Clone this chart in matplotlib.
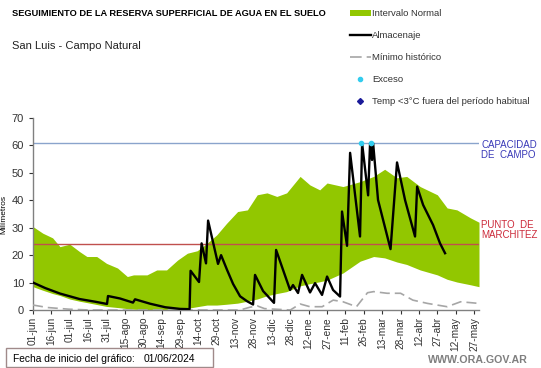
import numpy as np
import matplotlib
matplotlib.use("Agg")
import matplotlib.pyplot as plt
from matplotlib.lines import Line2D
from matplotlib.patches import Patch, Rectangle

plt.rcParams['font.family'] = ['Liberation Sans', 'DejaVu Sans']

# dias desde el 01/06/2024
tick_days = list(range(0, 361, 15))
tick_labels = ['01-jun', '16-jun', '01-jul', '16-jul', '31-jul', '15-ago', '30-ago',
               '14-sep', '29-sep', '14-oct', '29-oct', '13-nov', '28-nov', '13-dic',
               '28-dic', '12-ene', '27-ene', '11-feb', '26-feb', '13-mar', '28-mar',
               '12-abr', '27-abr', '12-may', '27-may']

# intervalo normal (banda verde)
band_days = [0, 8, 16, 22, 30, 38, 44, 52, 60, 69, 77, 82, 93, 101, 109, 118, 126, 134,
             142, 150, 158, 167, 175, 183, 191, 199, 207, 218, 226, 234, 240, 253, 267,
             278, 287, 297, 305, 316, 330, 338, 346, 357, 364]
band_upper = [30.4, 28.0, 26.3, 23.1, 24.0, 21.3, 19.5, 19.5, 17.0, 15.3, 12.2, 12.8, 12.8,
              14.6, 14.6, 18.2, 20.7, 21.6, 24.3, 27.4, 31.6, 35.9, 36.5, 42.0, 42.7, 41.4,
              42.7, 48.7, 45.6, 43.8, 46.3, 45.0, 46.8, 48.7, 51.3, 48.2, 48.7, 45.0, 42.0,
              37.2, 36.5, 33.6, 32.0]
band_lower = [8.5, 7.2, 6.0, 5.3, 4.0, 3.2, 2.7, 2.0, 1.3, 0.9, 0.5, 0.3, 0.1, 0.0, 0.0,
              0.2, 0.6, 1.2, 1.8, 1.8, 2.1, 2.5, 3.2, 4.0, 5.2, 6.0, 6.7, 8.8, 9.6, 10.3,
              10.9, 13.5, 17.8, 19.5, 19.0, 17.5, 16.6, 14.6, 12.8, 11.2, 10.2, 9.2, 8.5]

# almacenaje
alm_days = [0, 10, 22, 38, 51, 60.4, 61.2, 71, 81.6, 83.3, 95.5, 108, 120, 127.8, 128.6,
            135.5, 137.6, 141.2, 142.9, 151, 153.5, 158.4, 163.3, 169, 174.7, 179.6, 181.2,
            187.8, 196.7, 198.4, 209.8, 212.2, 216.3, 219.6, 226.1, 230.2, 235.9, 240,
            244.9, 250.6, 252.2, 256.3, 258.8, 266.9, 268.6, 273.5, 275.1, 276.7, 277.6,
            281.6, 291.8, 297.1, 303.7, 311.8, 313.5, 318.4, 326.5, 332.2, 336.3]
alm_vals = [10.0, 8.0, 6.0, 4.0, 3.0, 2.2, 5.1, 4.2, 2.7, 3.9, 2.3, 1.0, 0.4, 0.3, 14.3,
            10.2, 24.3, 17.0, 32.6, 16.8, 20.0, 14.6, 9.5, 5.0, 3.2, 2.0, 12.8,
            6.9, 2.6, 21.9, 7.3, 9.1, 6.2, 12.8, 6.4, 9.8, 5.5, 12.2,
            7.3, 4.9, 35.9, 23.4, 57.3, 26.8, 60.8, 41.8, 60.8, 54.7, 60.8,
            40.1, 22.2, 53.8, 40.0, 26.8, 45.0, 38.3, 31.0, 24.3, 20.7]

# minimo historico
min_days = [0, 12, 29, 46, 169, 177, 183, 189, 210, 218, 226, 236, 245, 253, 264, 273,
            278, 289, 300, 310, 322, 338, 349, 364]
min_vals = [1.8, 0.9, 0.3, 0.0, 0.0, 1.0, 1.5, 0.5, 0.0, 2.2, 1.2, 1.2, 3.6, 3.0, 1.2,
            6.3, 6.7, 6.1, 6.1, 3.6, 2.4, 1.2, 3.0, 2.4]

# exceso
exc_days = [268, 276]
exc_vals = [61, 61]

capacidad_campo = 61
punto_marchitez = 24

W, H = 541, 368
fig = plt.figure(figsize=(W / 100, H / 100), dpi=100)
ax = fig.add_axes([33 / W, 1 - 310 / H, (479 - 33) / W, (310 - 118) / H])

green = '#92c700'
ax.fill_between(band_days, band_lower, band_upper, color=green, linewidth=0, zorder=1)
ax.axhline(capacidad_campo, color='#8aa4cc', linewidth=1.0, zorder=2)
ax.axhline(punto_marchitez, color='#c0504d', linewidth=1.0, zorder=2)
ax.plot(min_days, min_vals, color='#a6a6a6', linewidth=1.2, dashes=(6, 3), zorder=3)
ax.plot(alm_days, alm_vals, color='black', linewidth=1.7, zorder=4,
        solid_joinstyle='round')
ax.plot(exc_days, exc_vals, 'o', color='#33ccee', markersize=3, zorder=5)

ax.set_xlim(0, 364)
ax.set_ylim(0, 70)
ax.set_xticks(tick_days)
ax.set_xticklabels(tick_labels, rotation=90, fontsize=7.3, color='#333333')
ax.set_yticks(range(0, 71, 10))
ax.tick_params(axis='y', labelsize=8, colors='#333333', length=3, direction='out')
ax.tick_params(axis='x', length=3, direction='out', colors='#333333', pad=2)
for s in ['top', 'right']:
    ax.spines[s].set_visible(False)
for s in ['left', 'bottom']:
    ax.spines[s].set_color('#808080')
    ax.spines[s].set_linewidth(1.0)
ax.set_ylabel('Milímetros', fontsize=6, labelpad=3)

# textos
fig.text(12 / W, 1 - 13 / H, 'SEGUIMIENTO DE LA RESERVA SUPERFICIAL DE AGUA EN EL SUELO',
         fontsize=6.7, fontweight='bold', va='center', ha='left')
fig.text(12 / W, 1 - 46 / H, 'San Luis - Campo Natural', fontsize=8, va='center', ha='left',
         color='#222222')
fig.text(481 / W, 1 - 150 / H, 'CAPACIDAD\nDE  CAMPO', fontsize=7, color='#3a3ab8',
         va='center', ha='left', linespacing=1.1)
fig.text(481 / W, 1 - 230 / H, 'PUNTO  DE\nMARCHITEZ', fontsize=7, color='#cc2a3a',
         va='center', ha='left', linespacing=1.1)

handles = [
    Patch(facecolor=green, edgecolor='none'),
    Line2D([], [], color='black', linewidth=1.7),
    Line2D([], [], color='#a6a6a6', linewidth=1.2, dashes=(7, 3, 4, 3)),
    Line2D([], [], color='#33ccee', marker='o', markersize=3, linestyle='none'),
    Line2D([], [], color='#1a1a99', marker='D', markersize=3, linestyle='none'),
]
labels = ['Intervalo Normal', 'Almacenaje', 'Mínimo histórico', 'Exceso',
          'Temp <3°C fuera del período habitual']
leg = fig.legend(handles, labels, loc='upper left', bbox_to_anchor=(350 / W, 1 - 9 / H),
                 frameon=False, fontsize=6.8, handlelength=2.2, handleheight=0.55,
                 handletextpad=0.15, labelspacing=1.38, borderpad=0, borderaxespad=0)
for t in leg.get_texts():
    t.set_color('#333333')

# caja de fecha de inicio
fig.patches.append(Rectangle((6 / W, 1 - 367 / H), 207 / W, 19 / H, transform=fig.transFigure,
                             facecolor='white', edgecolor='#a08a8a', linewidth=1.0))
fig.text(13 / W, 1 - 358.5 / H, 'Fecha de inicio del gráfico:', fontsize=7.4, va='center',
         ha='left')
fig.text(144 / W, 1 - 358.5 / H, '01/06/2024', fontsize=7.4, va='center', ha='left')
fig.text(428 / W, 1 - 360 / H, 'WWW.ORA.GOV.AR', fontsize=7.7, fontweight='bold',
         color='#7f7f7f', va='center', ha='left')

fig.savefig('out.png', dpi=100)
